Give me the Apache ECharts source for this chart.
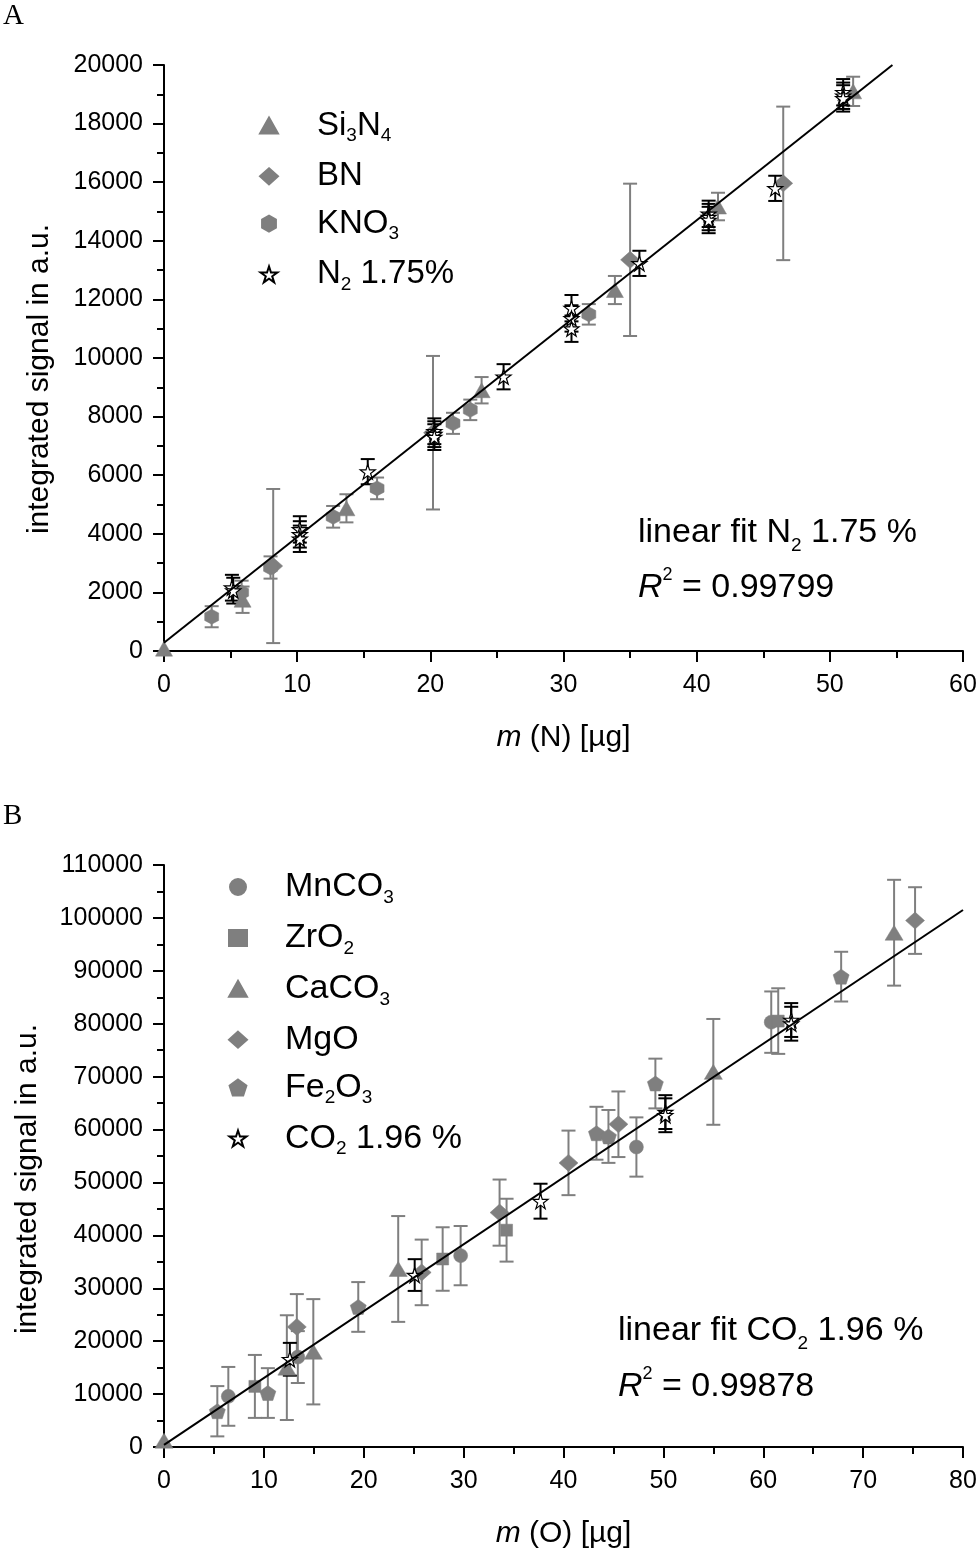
<!DOCTYPE html>
<html><head><meta charset="utf-8">
<script src="https://cdn.jsdelivr.net/npm/echarts@6/dist/echarts.min.js"></script>
<style>html,body{margin:0;padding:0;background:#fff}#c{width:980px;height:1550px}</style>
</head><body><div id="c"></div>
<script>
// ---------- Panel A: [m(N) in µg, integrated signal, error] ----------
const si3n4 = [[0,80,0],[5.9,1750,450],[13.7,4870,480],[23.85,8900,450],[33.86,12320,480],[41.6,15170,470],[51.75,19100,500]];
const bn    = [[8.2,2900,2630],[20.2,7450,2620],[35.0,13350,2600],[46.5,15960,2620]];
const kno3  = [[3.58,1170,360],[5.83,2000,400],[8.0,2850,380],[12.7,4580,370],[16.0,5550,370],[21.7,7770,360],[23.0,8230,350],[31.9,11490,350]];
const n2    = [[5.1,2160,440],[5.2,2060,440],[10.2,4150,450],[10.2,3980,450],[10.2,3830,450],[15.3,6120,430],
               [20.3,7500,440],[20.3,7400,440],[20.3,7300,440],[25.5,9360,430],[30.6,11700,450],[30.6,11350,450],
               [30.6,11000,450],[35.7,13230,430],[40.9,14920,450],[40.9,14810,450],[40.9,14710,450],[45.9,15790,430],
               [51.0,19070,450],[51.0,18950,450],[51.0,18860,450]];
const fitA  = [[0,280],[54.7,20000]];
const namesA = ['Si3N4','BN','KNO3','N2 1.75%'];

// ---------- Panel B: [m(O) in µg, integrated signal, error] ----------
const mnco3 = [[6.44,9570,5560],[13.4,17000,4900],[29.7,36170,5600],[47.3,56700,5600],[60.8,80300,5800]];
const zro2  = [[9.1,11450,5950],[27.9,35530,6000],[34.3,40980,5940],[61.5,80500,6200]];
const caco3 = [[0,1200,0],[12.3,15000,9900],[14.95,18000,9950],[23.45,33650,10000],[55.0,70900,10000],[73.1,97200,10000]];
const mgo   = [[13.3,22700,6200],[25.8,33000,6200],[33.6,44300,6250],[40.5,53700,6100],[45.5,61000,6200],[75.2,99500,6300]];
const fe2o3 = [[5.34,6760,4750],[10.4,10200,4700],[19.45,26470,4700],[43.3,59300,5000],[44.5,58700,5000],[49.2,68700,4700],[67.8,88900,4700]];
const co2   = [[12.6,16580,3100],[25.1,32500,3000],[37.7,46460,3300],[50.2,63300,3200],[50.2,62700,3200],[62.8,80700,3200],[62.8,80000,3200]];
const fitB  = [[0,400],[80,101500]];
const namesB = ['MnCO3','ZrO2','CaCO3','MgO','Fe2O3','CO2 1.96 %'];

const FONT = "'Liberation Sans', Arial, sans-serif";
const GRAY = '#7f7f7f';
const STAR = 'path://M0,-1L0.2245,-0.309L0.951,-0.309L0.363,0.118L0.588,0.809L0,0.382L-0.588,0.809L-0.363,0.118L-0.951,-0.309L-0.2245,-0.309Z';
const HEX  = 'path://M0,-1L0.866,-0.5L0.866,0.5L0,1L-0.866,0.5L-0.866,-0.5Z';
const PENT = 'path://M0,-1L0.951,-0.309L0.588,0.809L-0.588,0.809L-0.951,-0.309Z';

function errSeries(data, xi, color) {
  return {
    type: 'custom', xAxisIndex: xi, yAxisIndex: xi, data: data, silent: true,
    encode: {x: 0, y: 1},
    renderItem: function (params, api) {
      const x = api.value(0), y = api.value(1), e = api.value(2);
      if (!e) return null;
      const t = api.coord([x, y + e]), b = api.coord([x, y - e]);
      const st = {stroke: color, lineWidth: 2};
      return {type: 'group', children: [
        {type: 'line', shape: {x1: t[0], y1: t[1], x2: b[0], y2: b[1]}, style: st},
        {type: 'line', shape: {x1: t[0] - 7, y1: t[1], x2: t[0] + 7, y2: t[1]}, style: st},
        {type: 'line', shape: {x1: b[0] - 7, y1: b[1], x2: b[0] + 7, y2: b[1]}, style: st}
      ]};
    }
  };
}
function scat(name, data, xi, symbol, size, star) {
  return {
    type: 'scatter', name: name, xAxisIndex: xi, yAxisIndex: xi, data: data,
    encode: {x: 0, y: 1}, symbol: symbol, symbolSize: size,
    itemStyle: star ? {color: '#fff', borderColor: '#000', borderWidth: 1.2, opacity: 1}
                    : {color: GRAY, borderColor: GRAY, borderWidth: 0.5, opacity: 1}
  };
}
function fitLine(data, xi) {
  return {type: 'line', xAxisIndex: xi, yAxisIndex: xi, data: data, symbol: 'none', silent: true,
          lineStyle: {color: '#000', width: 2}, z: 3};
}

const legendLabels = {
  'Si3N4': '{g| }{a|Si}{s|3}{a|N}{s|4}',
  'BN': '{g| }{a|BN}',
  'KNO3': '{g| }{a|KNO}{s|3}',
  'N2 1.75%': '{g| }{a|N}{s|2}{a| 1.75%}',
  'MnCO3': '{g| }{a|MnCO}{s|3}',
  'ZrO2': '{g| }{a|ZrO}{s|2}',
  'CaCO3': '{g| }{a|CaCO}{s|3}',
  'MgO': '{g| }{a|MgO}',
  'Fe2O3': '{g| }{a|Fe}{s|2}{a|O}{s|3}',
  'CO2 1.96 %': '{g| }{a|CO}{s|2}{a| 1.96 %}'
};
function legendRich(gap, fs) {
  return {
    g: {width: gap, fontSize: fs, lineHeight: 40, fontFamily: FONT},
    a: {fontSize: fs, lineHeight: 40, fontFamily: FONT, color: '#000'},
    s: {fontSize: 19, lineHeight: 10, verticalAlign: 'bottom', fontFamily: FONT, color: '#000'}
  };
}
const annRich = {
  a: {fontSize: 34, lineHeight: 44, fontFamily: FONT, fill: '#000', color: '#000'},
  i: {fontSize: 34, lineHeight: 44, fontFamily: FONT, fontStyle: 'italic', fill: '#000', color: '#000'},
  s: {fontSize: 19, lineHeight: 12, verticalAlign: 'bottom', fontFamily: FONT, fill: '#000', color: '#000'},
  p: {fontSize: 18, lineHeight: 32, verticalAlign: 'top', fontFamily: FONT, fill: '#000', color: '#000'}
};

function xAx(gi, max, name) {
  return {
    type: 'value', gridIndex: gi, min: 0, max: max, interval: 10,
    name: name, nameLocation: 'middle', nameGap: 72,
    nameTextStyle: {fontSize: 30, fontFamily: FONT, color: '#000',
      rich: {i: {fontSize: 30, fontFamily: FONT, fontStyle: 'italic', color: '#000'}}},
    axisLine: {show: true, onZero: false, lineStyle: {color: '#000', width: 2}},
    axisTick: {show: true, inside: false, length: 11, lineStyle: {color: '#000', width: 2}},
    minorTick: {show: true, splitNumber: 2, length: 7, lineStyle: {color: '#000', width: 2}},
    splitLine: {show: false},
    axisLabel: {fontSize: 25, fontFamily: FONT, color: '#000', margin: 22, formatter: v => String(v)}
  };
}
function yAx(gi, max, interval) {
  return {
    type: 'value', gridIndex: gi, min: 0, max: max, interval: interval,
    axisLine: {show: true, onZero: false, lineStyle: {color: '#000', width: 2}},
    axisTick: {show: true, inside: false, length: 11, lineStyle: {color: '#000', width: 2}},
    minorTick: {show: true, splitNumber: 2, length: 7, lineStyle: {color: '#000', width: 2}},
    splitLine: {show: false},
    axisLabel: {fontSize: 25, fontFamily: FONT, color: '#000', margin: 21, formatter: v => String(v)}
  };
}

const chart = echarts.init(document.getElementById('c'), null, {renderer: 'canvas'});
chart.setOption({
  animation: false,
  backgroundColor: '#fff',
  grid: [
    {left: 164, top: 65, width: 799, height: 586, containLabel: false},
    {left: 164, top: 865, width: 799, height: 586, containLabel: false}
  ],
  xAxis: [xAx(0, 60, '{i|m} (N) [µg]'), xAx(1, 80, '{i|m} (O) [µg]')],
  yAxis: [yAx(0, 20000, 2000), yAx(1, 110000, 10000)],
  legend: [
    {data: namesA, orient: 'vertical', left: 254, top: 104, itemWidth: 18, itemHeight: 16, itemGap: 14.3,
     selectedMode: false, formatter: n => legendLabels[n], textStyle: {rich: legendRich(34, 33)}},
    {data: namesB, orient: 'vertical', left: 223, top: 865, itemWidth: 18, itemHeight: 16, itemGap: 13.9,
     selectedMode: false, formatter: n => legendLabels[n], textStyle: {rich: legendRich(33, 34)}}
  ],
  graphic: [
    {type: 'text', left: 3, top: 2, style: {text: 'A', fontSize: 29, fontFamily: "'Liberation Serif', 'Times New Roman', serif", fill: '#000'}},
    {type: 'text', left: 3, top: 802, style: {text: 'B', fontSize: 29, fontFamily: "'Liberation Serif', 'Times New Roman', serif", fill: '#000'}},
    {type: 'text', x: 40, y: 379, rotation: Math.PI / 2,
     style: {text: 'integrated signal in a.u.', fontSize: 30, fontFamily: FONT, fill: '#000', align: 'center', verticalAlign: 'middle'}},
    {type: 'text', x: 28, y: 1179, rotation: Math.PI / 2,
     style: {text: 'integrated signal in a.u.', fontSize: 30, fontFamily: FONT, fill: '#000', align: 'center', verticalAlign: 'middle'}},
    {type: 'text', x: 638, y: 533, style: {text: '{a|linear fit N}{s|2}{a| 1.75 %}', rich: annRich, verticalAlign: 'middle', align: 'left'}},
    {type: 'text', x: 638, y: 588, style: {text: '{i|R}{p|2}{a| = 0.99799}', rich: annRich, verticalAlign: 'middle', align: 'left'}},
    {type: 'text', x: 618, y: 1331, style: {text: '{a|linear fit CO}{s|2}{a| 1.96 %}', rich: annRich, verticalAlign: 'middle', align: 'left'}},
    {type: 'text', x: 618, y: 1387, style: {text: '{i|R}{p|2}{a| = 0.99878}', rich: annRich, verticalAlign: 'middle', align: 'left'}}
  ],
  series: [
    // Panel A
    errSeries(si3n4, 0, GRAY), errSeries(bn, 0, GRAY), errSeries(kno3, 0, GRAY),
    scat('Si3N4', si3n4, 0, 'triangle', [17, 15]),
    scat('BN', bn, 0, 'diamond', [19, 17]),
    scat('KNO3', kno3, 0, HEX, [14, 15]),
    fitLine(fitA, 0),
    errSeries(n2, 0, '#000'),
    scat('N2 1.75%', n2, 0, STAR, 15, true),
    // Panel B
    errSeries(mnco3, 1, GRAY), errSeries(zro2, 1, GRAY), errSeries(caco3, 1, GRAY),
    errSeries(mgo, 1, GRAY), errSeries(fe2o3, 1, GRAY),
    scat('MnCO3', mnco3, 1, 'circle', 14),
    scat('ZrO2', zro2, 1, 'rect', 12),
    scat('CaCO3', caco3, 1, 'triangle', [18, 15]),
    scat('MgO', mgo, 1, 'diamond', [19, 17]),
    scat('Fe2O3', fe2o3, 1, PENT, [16, 15]),
    fitLine(fitB, 1),
    errSeries(co2, 1, '#000'),
    scat('CO2 1.96 %', co2, 1, STAR, 15, true)
  ]
});
</script></body></html>
